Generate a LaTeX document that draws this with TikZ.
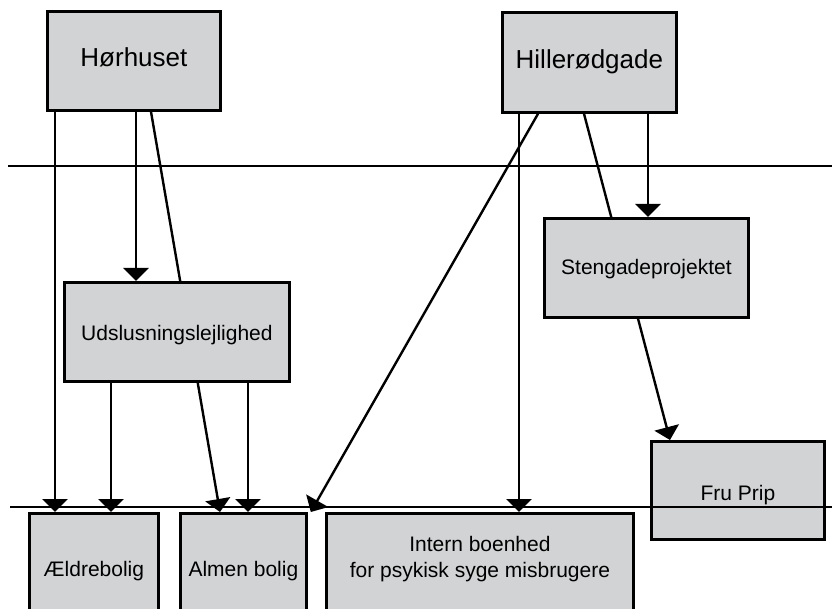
\documentclass[tikz,border=0pt]{standalone}
\usepackage{fontspec}
\setmainfont{Liberation Sans}
\usetikzlibrary{arrows.meta,backgrounds}
\definecolor{boxfill}{RGB}{209,211,212}

\begin{document}
\begin{tikzpicture}[x=1pt,y=-1pt,
	box/.style={draw, line width=2.8pt, fill=boxfill, inner sep=0pt, anchor=north west, font=\fontsize{21}{26}\selectfont},
	bigbox/.style={box, font=\fontsize{26}{31}\selectfont},
	conn/.style={line width=2.4pt, -{Triangle[width=25pt,length=13pt]}},
	rule/.style={line width=1.2pt}]
	\useasboundingbox (0,0) rectangle (832,609);
	\clip (0,0) rectangle (832,609);
	\node[bigbox, minimum width=173, text height=55, text depth=44] (hor) at (46,10) {Hørhuset};
	\node[bigbox, minimum width=174, text height=56, text depth=44] (hil) at (501,11) {Hillerødgade};
	\node[box, minimum width=225, text height=58, text depth=41] (uds) at (63,281) {Udslusningslejlighed};
	\node[box, minimum width=204, text height=56, text depth=43] (sten) at (543,217) {Stengadeprojektet};
	\node[box, minimum width=173, text height=59, text depth=39] (fru) at (650,440) {Fru Prip};
	\node[box, minimum width=129, text height=63, text depth=60] (aeld) at (28,512) {Ældrebolig};
	\node[box, minimum width=126, text height=63, text depth=60] (alm) at (179,512) {Almen bolig};
	\node[box, minimum width=307, text height=64, text depth=60, align=center] (int) at (325,512) {Intern boenhed\\for psykisk syge misbrugere};
	\begin{scope}[on background layer]
		\draw[conn] ([xshift=9]hor.south west) -- ([xshift=9]hor.south west |- aeld.north);
		\draw[conn] ([xshift=90]hor.south west) -- ([xshift=90]hor.south west |- uds.north);
		\draw[conn] ([xshift=105]hor.south west) -- ([xshift=41]alm.north west);
		\draw[conn] ([xshift=48]uds.south west) -- ([xshift=48]uds.south west |- aeld.north);
		\draw[conn] ([xshift=185]uds.south west) -- ([xshift=185]uds.south west |- alm.north);
		\draw[conn] ([xshift=18]hil.south west) -- ([xshift=18]hil.south west |- int.north);
		\draw[conn] ([xshift=37]hil.south west) -- ([xshift=3]alm.north east);
		\draw[conn] ([xshift=83]hil.south west) -- ([xshift=20]fru.north west);
		\draw[conn] ([xshift=147]hil.south west) -- ([xshift=147]hil.south west |- sten.north);
	\end{scope}
	\draw[rule] (8,166) -- (832,166);
	\draw[rule] (10,507) -- (832,507);
\end{tikzpicture}
\end{document}
